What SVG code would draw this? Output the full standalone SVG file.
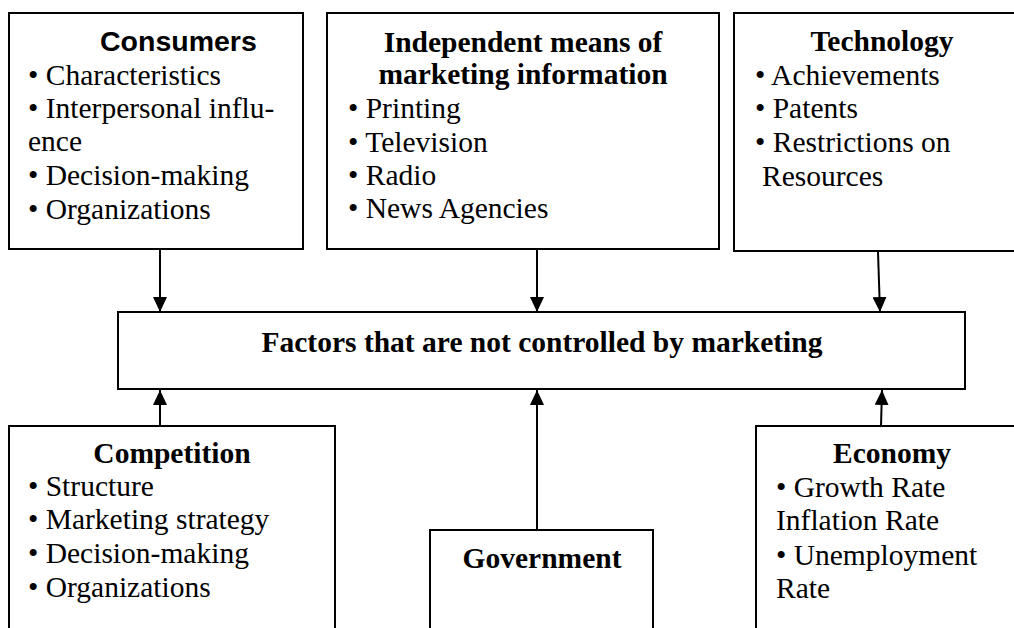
<svg xmlns="http://www.w3.org/2000/svg" width="1014" height="628" viewBox="0 0 1014 628">
<style>
.box{fill:#fff;stroke:#000;stroke-width:2}
.t{font-family:"Liberation Serif","Times New Roman",serif;font-size:29.5px;fill:#000}
.b{font-family:"Liberation Serif","Times New Roman",serif;font-size:29.5px;font-weight:bold;fill:#000;text-anchor:middle}
.s{font-family:"Liberation Sans",Arial,sans-serif;font-size:28.5px;font-weight:bold;fill:#000}
.c{stroke:#000;stroke-width:2;fill:none}
</style>
<defs>
<marker id="ah" markerUnits="userSpaceOnUse" markerWidth="15" markerHeight="14" refX="15" refY="7" orient="auto" viewBox="0 0 15 14">
<path d="M0,0 L15,7 L0,14 Z" fill="#000"/>
</marker>
</defs>
<g id="consumers">
<rect class="box" x="9" y="13" width="294" height="236"/>
<text class="s" x="100" y="51">Consumers</text>
<text class="t" x="28" y="85">• Characteristics</text>
<text class="t" x="28" y="118">• Interpersonal influ-</text>
<text class="t" x="28" y="151">ence</text>
<text class="t" x="28" y="185">• Decision-making</text>
<text class="t" x="28" y="219">• Organizations</text>
</g>
<g id="media">
<rect class="box" x="327" y="13" width="392" height="236"/>
<text class="b" x="523" y="52">Independent means of</text>
<text class="b" x="523" y="84">marketing information</text>
<text class="t" x="348" y="118">• Printing</text>
<text class="t" x="348" y="152">• Television</text>
<text class="t" x="348" y="185">• Radio</text>
<text class="t" x="348" y="218">• News Agencies</text>
</g>
<g id="technology">
<rect class="box" x="734" y="13" width="290" height="238"/>
<text class="b" x="882" y="51">Technology</text>
<text class="t" x="755" y="85">• Achievements</text>
<text class="t" x="755" y="118">• Patents</text>
<text class="t" x="755" y="152">• Restrictions on</text>
<text class="t" x="762" y="186">Resources</text>
</g>
<g id="factors">
<rect class="box" x="118" y="312" width="847" height="77"/>
<text class="b" x="542" y="352">Factors that are not controlled by marketing</text>
</g>
<g id="competition">
<rect class="box" x="9" y="426" width="326" height="220"/>
<text class="b" x="172" y="463">Competition</text>
<text class="t" x="28" y="496">• Structure</text>
<text class="t" x="28" y="529">• Marketing strategy</text>
<text class="t" x="28" y="563">• Decision-making</text>
<text class="t" x="28" y="597">• Organizations</text>
</g>
<g id="government">
<rect class="box" x="430" y="530" width="223" height="120"/>
<text class="b" x="542" y="568">Government</text>
</g>
<g id="economy">
<rect class="box" x="756" y="426" width="270" height="220"/>
<text class="b" x="892" y="463">Economy</text>
<text class="t" x="776" y="497">• Growth Rate</text>
<text class="t" x="776" y="530">Inflation Rate</text>
<text class="t" x="776" y="565">• Unemployment</text>
<text class="t" x="776" y="598">Rate</text>
</g>
<g id="connectors">
<line class="c" x1="160" y1="250" x2="160" y2="312" marker-end="url(#ah)"/>
<line class="c" x1="537" y1="250" x2="537" y2="312" marker-end="url(#ah)"/>
<line class="c" x1="878" y1="252" x2="880" y2="312" marker-end="url(#ah)"/>
<line class="c" x1="160" y1="426" x2="160" y2="390" marker-end="url(#ah)"/>
<line class="c" x1="537" y1="530" x2="537" y2="390" marker-end="url(#ah)"/>
<line class="c" x1="881" y1="426" x2="882" y2="390" marker-end="url(#ah)"/>
</g>
</svg>
